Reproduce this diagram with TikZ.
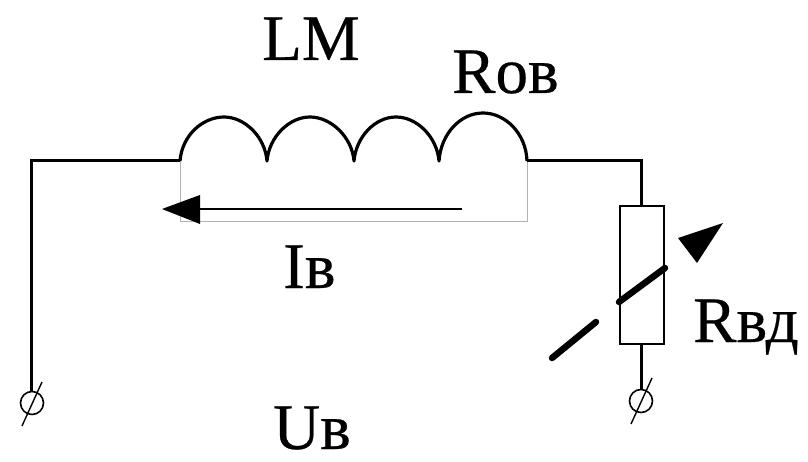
\documentclass[tikz,border=0pt]{standalone}
\usepackage{fontspec}
\setmainfont{Liberation Serif}
\newfontfamily\lblfont[FakeBold=0.4]{Liberation Serif}
\tikzset{
  wire/.style={line width=3pt,black},
  coilwire/.style={line width=3.2pt,black,line join=round},
  heavy/.style={line width=6.5pt,black,line cap=round},
  label/.style={anchor=base west,inner sep=0pt,font=\lblfont\fontsize{65}{70}\selectfont},
  terminal/.style={circle,draw=black,line width=1.6pt,minimum size=23pt,inner sep=0pt},
  slash/.style={line width=1.4pt,black},
  res/.style={rectangle,draw=black,line width=2.2pt,minimum width=44pt,minimum height=138pt,inner sep=0pt},
  tip/.style={fill=black,draw=none}
}
\begin{document}
\begin{tikzpicture}[x=1pt,y=-1pt]
\useasboundingbox (0,0) rectangle (808,462);
\fill[white] (0,0) rectangle (808,462);
% coordinates
\coordinate (c0) at (180,161);
\coordinate (c1) at (267,161);
\coordinate (c2) at (354,161);
\coordinate (c3) at (439,161);
\coordinate (c4) at (527,161);
\coordinate (corner) at (31,161);
\coordinate (bend) at (641,161);
\node[res] (rv) at (642,275) {};
\node[terminal] (t1) at (32,403) {};
\node[terminal] (t2) at (641,401) {};
% grey frame
\draw[line width=1pt,black!30] (c0) -- (180,222) -- (527,222) -- (c4);
% coil
\draw[coilwire]
  (c0) .. controls (182,135) and (203,117) .. (224,117)
       .. controls (245,117) and (265,137) .. (c1)
       .. controls (269,137) and (289,117) .. (310,117)
       .. controls (331,117) and (352,137) .. (c2)
       .. controls (356,137) and (375,117) .. (396,117)
       .. controls (417,117) and (437,137) .. (c3)
       .. controls (441,133) and (461,113) .. (483,113)
       .. controls (505,113) and (526,133) .. (c4);
% wires
\draw[wire] (t1.north -| corner) -- (corner) -- (c0);
\draw[wire] (c4) -- (bend) -- (rv.north -| bend);
\draw[wire] (rv.south -| bend) -- (t2.north);
% terminal slashes
\coordinate (s1a) at (42,382);
\coordinate (s1b) at (22,426);
\coordinate (s2a) at (652,378);
\coordinate (s2b) at (631,424);
\draw[slash] (s1a) -- (s1b);
\draw[slash] (s2a) -- (s2b);
% current arrow
\coordinate (ia) at (462,209);
\coordinate (ib) at (200,209);
\draw[line width=2pt] (ia) -- (ib);
\fill[tip] (162,209) -- (200,195) -- (200,224) -- cycle;
% variable resistor
\coordinate (h1a) at (619,302);
\coordinate (h1b) at (665,268);
\coordinate (h2a) at (552,358);
\coordinate (h2b) at (596,322);
\draw[heavy] (h1a) -- (h1b);
\draw[heavy] (h2a) -- (h2b);
\fill[tip] (723,223) -- (678,238) -- (697,263) -- cycle;
% labels
\node[label] (lm) at (262,60) {LM};
\node[label] (rob) at (452,93) {Rов};
\node[label] (ib2) at (283,288) {Iв};
\node[label] (rvd) at (693,342) {Rвд};
\node[label] (ub) at (273,449) {Uв};
\end{tikzpicture}
\end{document}
